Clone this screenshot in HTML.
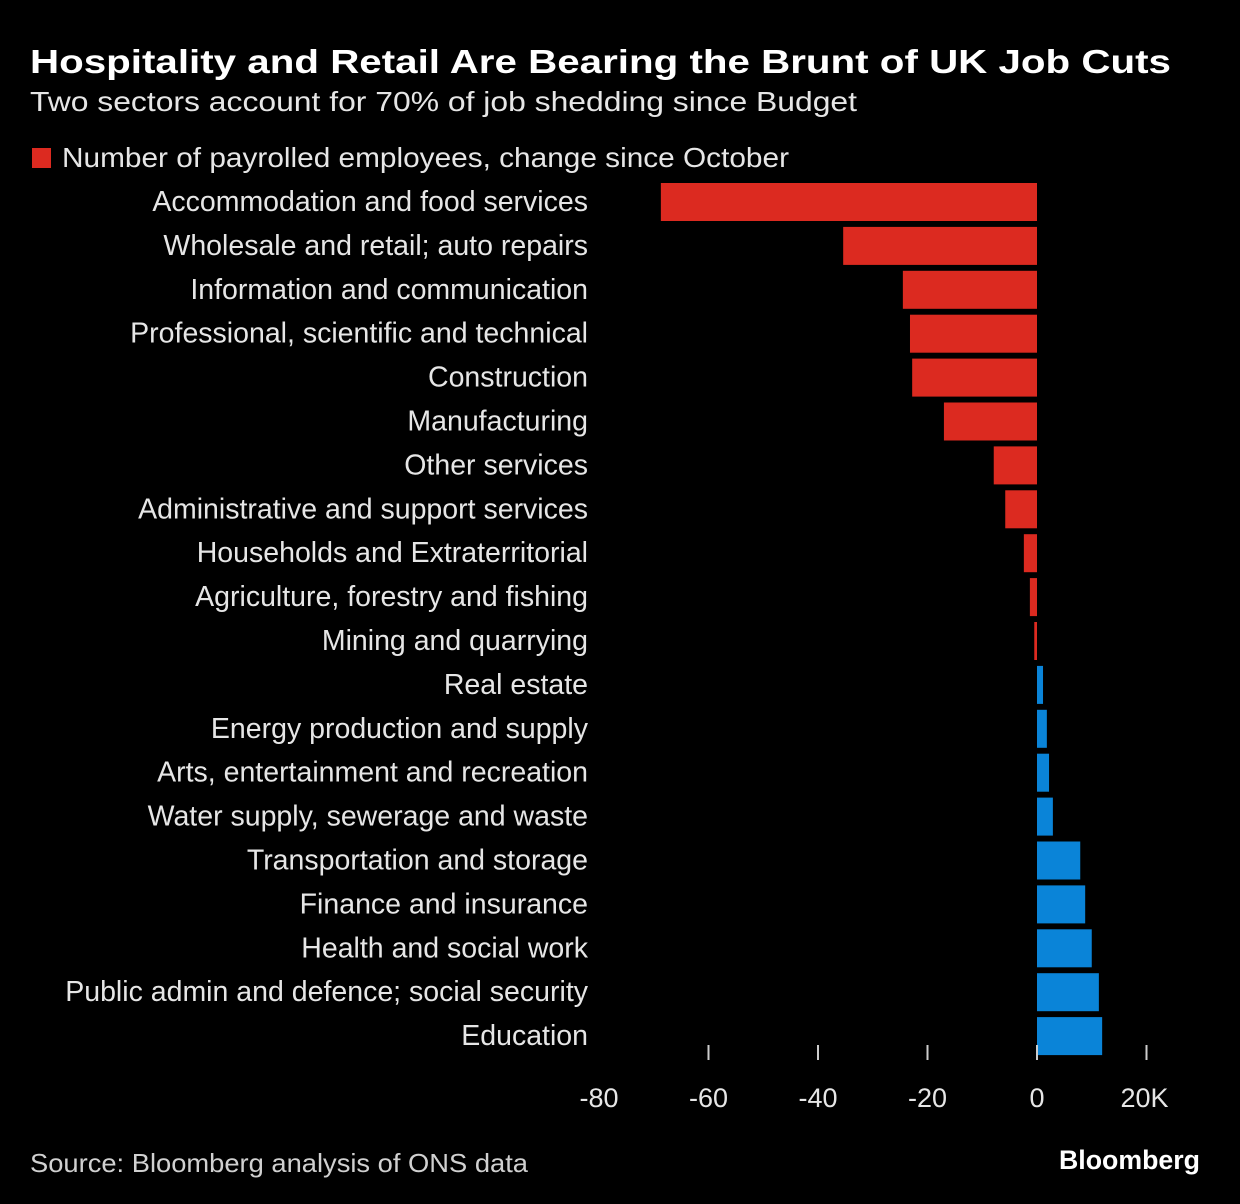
<!DOCTYPE html>
<html><head><meta charset="utf-8"><style>
html,body{margin:0;padding:0;background:#000;}
svg{display:block;font-family:"Liberation Sans",sans-serif;}
</style></head><body>
<svg id="chart" width="1240" height="1204" viewBox="0 0 1240 1204">
<rect width="1240" height="1204" fill="#000"/>
<text x="30" y="73" fill="#fff" font-size="33" font-weight="bold" textLength="1141" lengthAdjust="spacingAndGlyphs">Hospitality and Retail Are Bearing the Brunt of UK Job Cuts</text>
<text x="30" y="111" fill="#e6e6e6" font-size="28" textLength="827" lengthAdjust="spacingAndGlyphs">Two sectors account for 70% of job shedding since Budget</text>
<rect x="32" y="148" width="19" height="20" fill="#dc2a20"/>
<text x="62" y="167" fill="#e6e6e6" font-size="28" textLength="727" lengthAdjust="spacingAndGlyphs">Number of payrolled employees, change since October</text>
<g id="bars"></g>
<g id="axis"></g>
<text x="30" y="1172" fill="#d0d0d0" font-size="26" textLength="498" lengthAdjust="spacingAndGlyphs">Source: Bloomberg analysis of ONS data</text>
<text x="1200" y="1169" fill="#fff" font-size="27" font-weight="bold" text-anchor="end" textLength="141" lengthAdjust="spacingAndGlyphs">Bloomberg</text>
</svg>
<script>
const categories=["Accommodation and food services","Wholesale and retail; auto repairs","Information and communication","Professional, scientific and technical","Construction","Manufacturing","Other services","Administrative and support services","Households and Extraterritorial","Agriculture, forestry and fishing","Mining and quarrying","Real estate","Energy production and supply","Arts, entertainment and recreation","Water supply, sewerage and waste","Transportation and storage","Finance and insurance","Health and social work","Public admin and defence; social security","Education"];
const values=[-68.7,-35.4,-24.5,-23.2,-22.8,-17,-7.9,-5.8,-2.4,-1.3,-0.5,1.1,1.8,2.2,2.9,7.9,8.8,10,11.3,11.9];
const ticks=[-80,-60,-40,-20,0,20];
const tickLabels=["-80","-60","-40","-20","0","20K"];
const NS="http://www.w3.org/2000/svg";
const x=v=>1037+v*5.475;
const y=i=>183+i*43.9;
const bars=document.getElementById('bars');
categories.forEach((c,i)=>{
  const v=values[i];
  const r=document.createElementNS(NS,'rect');
  
  
  r.setAttribute('x',Math.min(x(0),x(v)));
  r.setAttribute('y',y(i));
  r.setAttribute('width',Math.abs(x(v)-x(0)));
  r.setAttribute('height',38);
  r.setAttribute('fill',v<0?'#dc2a20':'#0a84d8');
  bars.appendChild(r);
  const t=document.createElementNS(NS,'text');
  
  
  t.setAttribute('x',588);
  t.setAttribute('y',y(i)+28);
  t.setAttribute('text-anchor','end');
  t.setAttribute('fill','#e6e6e6');
  t.setAttribute('font-size','28.5');
  t.textContent=c;
  bars.appendChild(t);
});
const axis=document.getElementById('axis');
ticks.forEach((v,i)=>{
  if(i>0){
  const l=document.createElementNS(NS,'line');
  
  
  l.setAttribute('x1',x(v));l.setAttribute('x2',x(v));
  l.setAttribute('y1',1045);l.setAttribute('y2',1060);
  l.setAttribute('stroke','#ccc');l.setAttribute('stroke-width','2');
  axis.appendChild(l);
  }
  const t=document.createElementNS(NS,'text');
  
  
  t.setAttribute('x',x(v)+(i===5?-2:0));
  t.setAttribute('y',1107);
  t.setAttribute('text-anchor','middle');
  t.setAttribute('fill','#e6e6e6');
  t.setAttribute('font-size','27');
  t.textContent=tickLabels[i];
  axis.appendChild(t);
});
</script>
</body></html>
